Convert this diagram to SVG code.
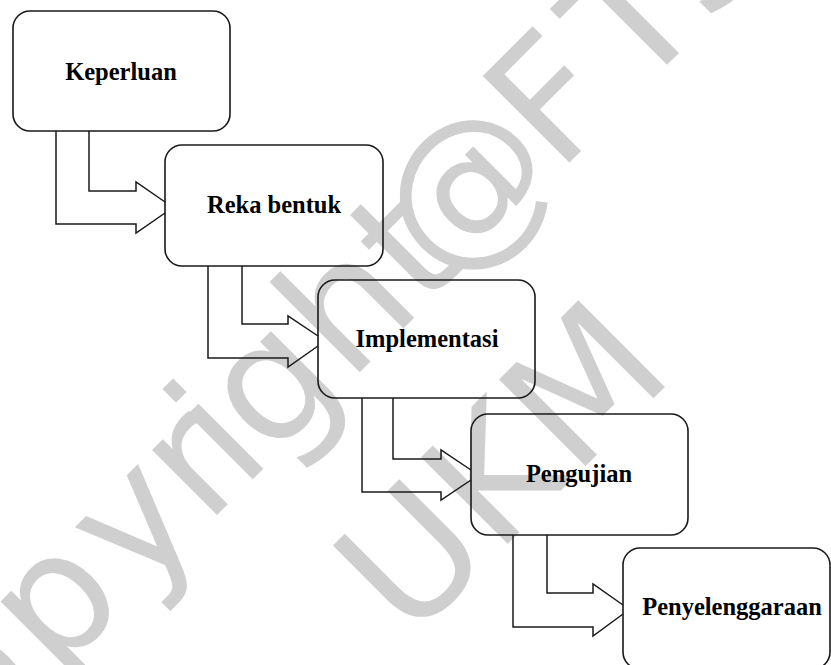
<svg xmlns="http://www.w3.org/2000/svg" width="831" height="665" viewBox="0 0 831 665">
<style>
.wm{font-family:"DejaVu Sans",sans-serif;font-size:168px;fill:#cfcfcf}
.box{fill:none;stroke:#1a1a1a;stroke-width:1.6}
.lbl{font-family:"Liberation Serif","Times New Roman",serif;font-size:24.5px;font-weight:bold;fill:#000;text-anchor:middle}
.con{fill:none;stroke:#1a1a1a;stroke-width:1.5;stroke-linejoin:miter}
</style>
<rect width="831" height="665" fill="#fff"/>
<g id="watermark" transform="translate(366,366) rotate(-45)">
<text class="wm" x="-690 -552 -440 -325 -226 -176 -134 -24 80 112 271 383 482 582" y="0">Copyright@FTSM</text>
<text class="wm" x="-165" y="226">UKM</text>
</g>
<g id="connectors">
<path class="con" d="M56,131 V224 H136 V233 L165,213 M89,131 V191 H136 V182 L165,202"/>
<path class="con" d="M208,266 V358 H288 V367 L318,346 M242,266 V324 H288 V316 L318,336"/>
<path class="con" d="M362,398 V492 H441 V500 L471,480 M393,398 V459 H441 V450 L471,470"/>
<path class="con" d="M513,535 V627 H593 V636 L623,614 M547,535 V593 H593 V584 L623,605"/>
</g>
<g id="keperluan">
<rect class="box" x="13" y="11" width="217" height="120" rx="17"/>
<text class="lbl" x="121" y="80">Keperluan</text>
</g>
<g id="reka-bentuk">
<rect class="box" x="165" y="145" width="218" height="121" rx="17"/>
<text class="lbl" x="274" y="213">Reka bentuk</text>
</g>
<g id="implementasi">
<rect class="box" x="318" y="280" width="217" height="118" rx="17"/>
<text class="lbl" x="427" y="347">Implementasi</text>
</g>
<g id="pengujian">
<rect class="box" x="471" y="414" width="217" height="121" rx="17"/>
<text class="lbl" x="579" y="482">Pengujian</text>
</g>
<g id="penyelenggaraan">
<rect class="box" x="623" y="548" width="207" height="121" rx="17"/>
<text class="lbl" x="732" y="615">Penyelenggaraan</text>
</g>
</svg>
